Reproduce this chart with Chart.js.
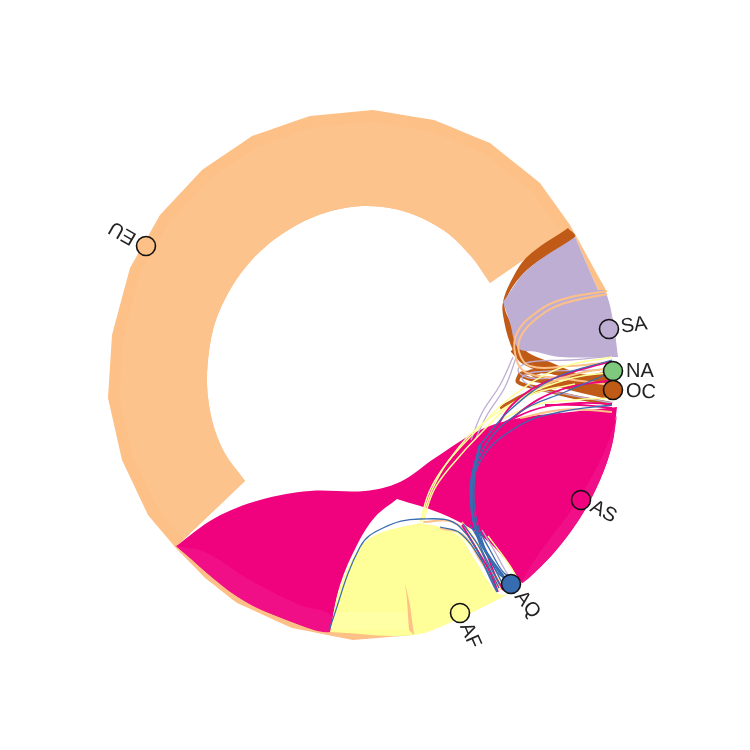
<!DOCTYPE html>
<html>
<head>
<meta charset="utf-8">
<style>html,body{margin:0;background:#fff}canvas{display:block}</style>
<script src="https://cdn.jsdelivr.net/npm/chart.js@4"></script>
</head>
<body>
<canvas id="c" width="750" height="750"></canvas>
<script>
const PEACH = "#fdc086", PEACH_LIGHT = "#fdc38d", LILAC = "#beaed4", GREEN = "#7fc97f",
  YELLOW = "#ffff99", YELLOW_LIGHT = "#ffffa6", BLUE = "#386cb0", PINK = "#f0027f", PINK_LIGHT = "#f00f87", BROWN = "#bf5b17";

// nodes
const nodeNames = ["EU", "SA", "NA", "OC", "AS", "AQ", "AF"];
const nodeX = [146, 609, 613, 613, 581, 511, 460];
const nodeY = [246, 329, 371, 390, 500, 584, 613];
const nodeColors = [PEACH, LILAC, GREEN, BROWN, PINK, BLUE, YELLOW];
const labelAngles = [210, -8, 0, 4, 28, 52, 66];
const labelGap = [13, 12, 13, 13, 12, 12, 12];

// outer rim of the EU band, layout coords
const euRim = [[607,292],[570,225],[540,183],[490,143],[434,120],[373,110],[310,116],[252,136],[202,170],[160,215],[130,268],[112,335],[108,398],[122,460],[148,515],[175,547]];
const euRimBottom = [[175,547],[205,578],[237,603],[292,628],[353,640],[413,635],[409,628],[355,633],[292,621],[238,597],[178,545],[245,481]];
const euInner = [[245,481],[222,448],[209,405],[208,360],[219,312],[250,262],[295,226],[345,208],[395,209],[440,228],[470,255],[490,283]];
const euEnds = [[490,283],[569,229],[575,237],[598,290],[607,292]];

const asTop = [[175,547],[215,518],[260,500],[310,491],[365,491],[400,482],[435,458],[480,430],[520,418],[570,412],[617,407]];
const asOuter = [[617,407],[612,445],[600,480],[580,518],[552,555],[522,583]];
const asLobe = [[522,583],[497,550],[473,530],[440,513],[397,499]];
const asLeft = [[397,499],[375,517],[358,543],[340,585],[330,632]];
const asBottom = [[330,632],[292,622],[238,597],[176,546]];
const asPaleLower = [[176,546],[205,552],[250,580],[300,605],[331,615],[330,632],[292,622],[238,597],[176,546]];
const asPaleRight = [[617,415],[606,448],[590,480],[568,515],[540,552],[522,583],[552,555],[580,518],[600,480],[612,445],[617,415]];

const afLeft = [[330,632],[340,587],[360,547],[380,533],[420,523]];
const afTop = [[420,523],[440,527],[460,537],[473,557],[497,593],[507,595]];
const afOuter = [[507,595],[460,618],[414,635],[330,632]];
const afPale = [[331,630],[335,612],[405,612],[409,629],[331,630]];
const afSliver = [[405,583],[410,605],[414,635],[409,630],[407,600],[405,583]];

const saUpper = [[575,237],[598,290]];
const saOuter = [[598,290],[605,291],[613,320],[618,357]];
const saBottom = [[618,357],[560,357],[537,352],[518,348],[510,323],[503,302]];
const saLeft = [[503,302],[527,270],[575,237]];

const ocUpperOut = [[568,228],[527,257],[510,283],[503,302],[503,315],[510,343],[520,360],[545,372],[612,388]];
const ocUpperIn = [[612,388],[550,362],[525,350],[512,325],[505,303],[527,270],[575,237],[568,228]];

// single edges: peach, lilac, yellow, blue, pink, brown
const peachEdges = [
  [[607,291],[560,300],[533,315],[517,333],[515,353],[525,372],[560,378],[612,385]],
  [[607,294],[562,304],[536,319],[521,336],[519,352],[530,366],[570,366],[612,362]],
  [[423,522],[453,522],[473,543],[497,592]],
  [[440,528],[463,535],[480,560],[500,590]],
  [[520,418],[560,410],[590,410],[612,412]],
  [[510,405],[545,385],[580,373],[612,368]],
  [[462,522],[478,545],[490,568],[500,590]]
];
const lilacEdges = [
  [[471,440],[482,413],[500,385],[513,357]],
  [[475,440],[487,415],[505,387],[516,358]],
  [[612,356],[570,360],[530,362],[518,370],[530,378],[570,377]],
  [[612,403],[570,395],[535,388],[522,378],[535,372],[600,370]],
  [[465,525],[478,545],[490,565],[503,588]],
  [[482,530],[494,550],[505,570],[512,580]]
];
const yellowEdges = [
  [[420,522],[430,490],[447,463],[477,430],[510,398],[560,368],[612,357]],
  [[423,522],[434,490],[452,465],[482,432],[515,402],[565,380],[612,372]],
  [[421,522],[432,490],[449,460],[482,424],[530,395],[575,384]],
  [[500,420],[535,405],[575,400],[612,398]],
  [[468,528],[480,550],[492,570],[507,590]],
  [[455,530],[475,550],[490,572],[500,590]],
  [[488,536],[500,552],[510,566],[516,576]]
];
const blueEdges = [
  [[480,445],[510,410],[555,378],[612,360]],
  [[503,585],[482,540],[474,490],[484,448],[520,412],[565,392],[612,372]],
  [[500,585],[480,545],[472,505],[481,460],[520,425],[560,412],[612,405]],
  [[329,630],[360,547],[383,528],[420,519],[460,527],[497,592]],
  [[470,525],[485,550],[497,572],[510,582]],
  [[478,528],[490,550],[503,572],[512,578]],
  [[440,527],[460,533],[483,563],[497,590]],
  [[463,524],[478,545],[490,570],[499,588]]
];
const blueArc = [[507,582],[480,540],[471,490],[480,445]];
const pinkEdges = [
  [[490,440],[512,405],[550,380],[612,361]],
  [[495,440],[520,412],[560,390],[612,380]],
  [[505,422],[540,408],[580,403],[612,404]],
  [[475,532],[486,552],[495,575],[503,590]],
  [[462,525],[476,548],[490,572],[498,592]],
  [[545,405],[580,405],[612,408]]
];
const brownEdges = [
  [[612,386],[570,384],[535,380],[520,374],[540,372]],
  [[612,404],[570,396],[538,388],[518,382],[520,374]],
  [[612,398],[560,385],[530,372],[560,372]],
  [[500,408],[530,393],[565,384]],
  [[512,350],[525,363],[552,372],[600,378]]
];
const brownWedge = [[555,383],[603,372],[612,380],[612,400],[603,398],[555,383]];

const corners = (pts) => pts.flatMap((p) => [p, p]);
const toXY = (pts) => pts.map((p) => ({ x: p[0], y: p[1] }));

// scale rim in a little so the paler inner part of the band shows the solid edge
const euPale = euRim.slice(1).map((p) => [364 + (p[0] - 364) * 0.955, 375 + (p[1] - 375) * 0.955]);

function shape(color, pts, tension = 0.35) {
  return { type: "scatter", data: toXY(pts), showLine: true, tension, borderWidth: 0, pointRadius: 0, shapeFill: color };
}
function edges(list, color, width) {
  return list.map((pts) => ({ type: "scatter", data: toXY(pts), showLine: true, tension: 0.4, borderColor: color, borderWidth: width, pointRadius: 0 }));
}

// bottom layer first, flipped below because Chart.js paints high order first
const layers = [
  shape(PEACH, [...corners(euRim), ...corners(euRimBottom), ...euInner, ...corners(euEnds)]),
  shape(PEACH_LIGHT, [...corners(euPale), [245,481], ...euInner]),
  shape(PINK, [...asTop, ...asOuter, ...asLobe, ...asLeft, ...asBottom]),
  shape(PINK_LIGHT, asPaleLower),
  shape(PINK_LIGHT, asPaleRight),
  shape(YELLOW, [...afLeft, ...afTop, ...afOuter]),
  shape(YELLOW_LIGHT, afPale, 0),
  shape(PEACH, afSliver, 0),
  shape(BROWN, [...ocUpperOut, ...ocUpperIn]),
  shape(LILAC, [...saUpper, ...saOuter, ...saBottom, ...saLeft]),
  shape(BROWN, brownWedge, 0),
  ...edges(brownEdges, BROWN, 4),
  ...edges(lilacEdges, LILAC, 1.3),
  ...edges(peachEdges, PEACH, 2),
  ...edges(yellowEdges, YELLOW, 1.5),
  ...edges(pinkEdges, PINK, 1.8),
  ...edges(blueEdges, BLUE, 1.3),
  ...edges([blueArc], BLUE, 3)
];
layers.forEach((d, i) => { d.order = layers.length - i + 1; });

const nodes = {
  type: "scatter",
  order: 0,
  data: nodeX.map((x, i) => ({ x, y: nodeY[i] })),
  pointRadius: 9.5,
  pointBackgroundColor: nodeColors,
  pointBorderColor: "#111",
  pointBorderWidth: 1.6
};

const closedFill = {
  id: "closedFill",
  beforeDatasetDraw(chart, args) {
    const ds = chart.data.datasets[args.index];
    if (!ds.shapeFill) return;
    const line = args.meta.dataset;
    const ctx = chart.ctx;
    line.updateControlPoints(chart.chartArea);
    ctx.save();
    ctx.fillStyle = ds.shapeFill;
    ctx.beginPath();
    line.path(ctx);
    ctx.closePath();
    ctx.fill();
    ctx.restore();
  }
};

const nodeLabels = {
  id: "nodeLabels",
  afterDatasetsDraw(chart) {
    const { ctx, scales } = chart;
    nodeNames.forEach((name, i) => {
      const a = labelAngles[i] * Math.PI / 180;
      ctx.save();
      ctx.translate(scales.x.getPixelForValue(nodeX[i]), scales.y.getPixelForValue(nodeY[i]));
      ctx.rotate(a);
      ctx.font = '20px "Liberation Sans"';
      ctx.fillStyle = "#222";
      ctx.textBaseline = "middle";
      ctx.fillText(name, labelGap[i], 0);
      ctx.restore();
    });
  }
};

new Chart(document.getElementById("c"), {
  type: "scatter",
  data: { datasets: [nodes, ...layers] },
  plugins: [closedFill, nodeLabels],
  options: {
    responsive: false,
    animation: false,
    layout: { padding: 0, autoPadding: false },
    plugins: { legend: { display: false }, tooltip: { enabled: false } },
    scales: {
      x: { display: false, min: 0, max: 750 },
      y: { display: false, min: 0, max: 750, reverse: true }
    }
  }
});
</script>
</body>
</html>
